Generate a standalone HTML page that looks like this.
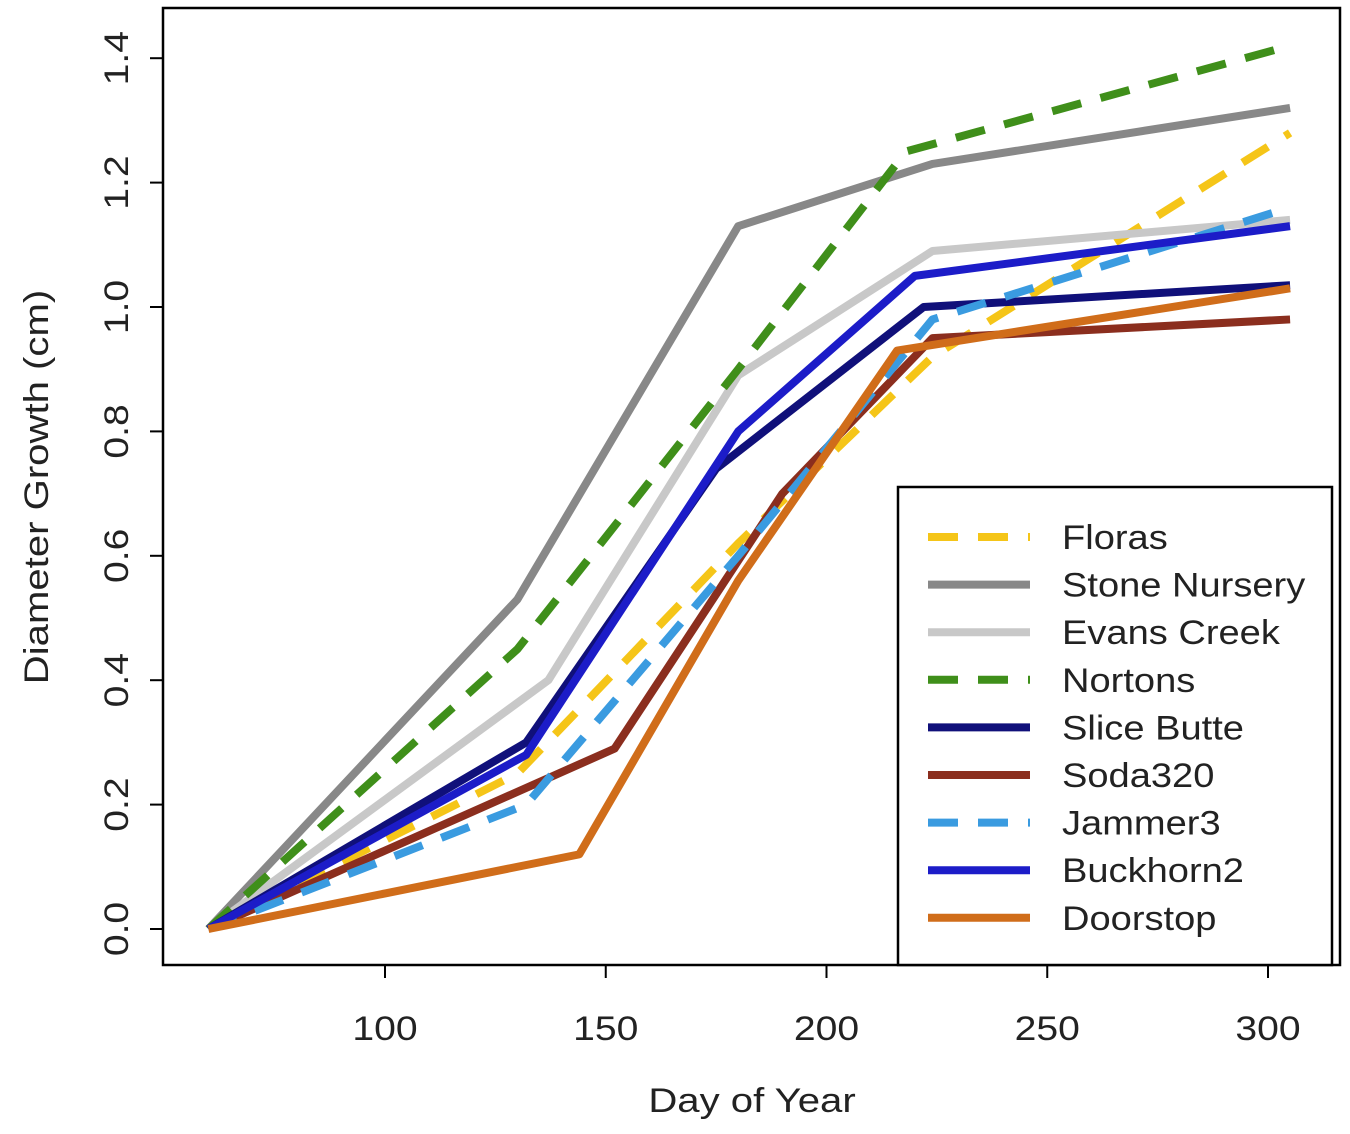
<!DOCTYPE html>
<html><head><meta charset="utf-8"><style>
body{margin:0;background:#fff}
svg{display:block}
text{font-family:"Liberation Sans",sans-serif;fill:#222}
</style></head><body>
<svg id="chart" width="1350" height="1134">
<rect x="163" y="8" width="1177" height="957" fill="none" stroke="#000" stroke-width="2.5"/>
<g id="axes"></g>
<g id="series"></g>
<g id="legend"></g>
<text transform="translate(752,1112) scale(1.18,1)" font-size="34" text-anchor="middle">Day of Year</text>
<text transform="translate(48,487) rotate(-90) scale(1.18,1)" font-size="34" text-anchor="middle">Diameter Growth (cm)</text>
</svg>
<script>
const xTicks=[100,150,200,250,300];
const yTicks=[0.0,0.2,0.4,0.6,0.8,1.0,1.2,1.4];
const names=["Floras","Stone Nursery","Evans Creek","Nortons","Slice Butte","Soda320","Jammer3","Buckhorn2","Doorstop"];
const colors=["#f5c518","#888888","#c8c8c8","#3f8f1a","#10107a","#8b2e1e","#3a9be0","#1c1cc8","#d06d1a"];
const dashed=[true,false,false,true,false,false,true,false,false];
const daysFloras=[60,130,180,224,305], valsFloras=[0,0.25,0.62,0.92,1.28];
const daysStone=[60,130,180,224,305], valsStone=[0,0.53,1.13,1.23,1.32];
const daysEvans=[60,137,180,224,305], valsEvans=[0,0.4,0.89,1.09,1.14];
const daysNortons=[60,130,180,218,305], valsNortons=[0,0.45,0.9,1.25,1.42];
const daysSlice=[60,132,175,222,305], valsSlice=[0,0.3,0.74,1.0,1.035];
const daysSoda=[60,152,190,224,305], valsSoda=[0,0.29,0.7,0.95,0.98];
const daysJammer=[60,132,180,224,305], valsJammer=[0,0.2,0.6,0.98,1.16];
const daysBuck=[60,132,180,220,305], valsBuck=[0,0.28,0.8,1.05,1.13];
const daysDoor=[60,144,180,216,305], valsDoor=[0,0.12,0.56,0.93,1.03];
const seriesDays=[daysFloras,daysStone,daysEvans,daysNortons,daysSlice,daysSoda,daysJammer,daysBuck,daysDoor];
const seriesVals=[valsFloras,valsStone,valsEvans,valsNortons,valsSlice,valsSoda,valsJammer,valsBuck,valsDoor];
const NS="http://www.w3.org/2000/svg";
const X=d=>385+(d-100)*4.415;
const Y=v=>929-v*622;
function mk(tag,attrs,parent){const e=document.createElementNS(NS,tag);for(const k in attrs)e.setAttribute(k,attrs[k]);parent.appendChild(e);return e;}
const axes=document.getElementById('axes');
xTicks.forEach(t=>{
  const l=mk('line',{x1:X(t),x2:X(t),y1:965,y2:978,stroke:'#000','stroke-width':2},axes);
  
  
  const tx=mk('text',{transform:`translate(${X(t)},1040) scale(1.15,1)`,'font-size':34,'text-anchor':'middle'},axes);
  tx.textContent=t;
  
  
});
yTicks.forEach(t=>{
  const l=mk('line',{x1:150,x2:163,y1:Y(t),y2:Y(t),stroke:'#000','stroke-width':2},axes);
  
  
  const tx=mk('text',{transform:`translate(128,${Y(t)}) rotate(-90) scale(1.15,1)`,'font-size':34,'text-anchor':'middle'},axes);
  tx.textContent=t.toFixed(1);
  
  
});
const sg=document.getElementById('series');
names.forEach((n,i)=>{
  const pts=seriesDays[i].map((d,j)=>X(d)+','+Y(seriesVals[i][j])).join(' ');
  const p=mk('polyline',{points:pts,fill:'none',stroke:colors[i],'stroke-width':8,'stroke-linejoin':'round'},sg);
  if(dashed[i])p.setAttribute('stroke-dasharray','30 20');
  
  
});
const lg=document.getElementById('legend');
const box=mk('rect',{x:898,y:487,width:434,height:478,fill:'#fff',stroke:'#000','stroke-width':2.5},lg);


names.forEach((n,i)=>{
  const y=537+i*47.6;
  const l=mk('line',{x1:928,x2:1030,y1:y,y2:y,stroke:colors[i],'stroke-width':8},lg);
  if(dashed[i])l.setAttribute('stroke-dasharray','30 20');
  
  
  const t=mk('text',{transform:`translate(1062,${y+12}) scale(1.12,1)`,'font-size':34},lg);
  t.textContent=n;
  
  
});
</script>
</body></html>
